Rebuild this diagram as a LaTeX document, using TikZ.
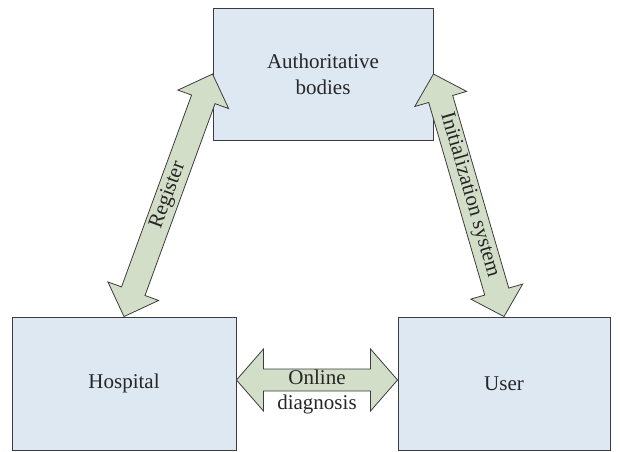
\documentclass[tikz,border=0pt]{standalone}
\usepackage{fontspec}
\setmainfont{Liberation Serif}
\usetikzlibrary{calc}
\definecolor{boxfill}{HTML}{DDE8F3}
\definecolor{boxline}{HTML}{3C3C3C}
\definecolor{arrfill}{HTML}{D3DEC8}
\newcommand\dblarrow[5]{%
 \draw[flowarrow] (#1) -- ($(#1)!#3!(#2)!#4!90:(#2)$) -- ($(#1)!#3!(#2)!#5!90:(#2)$)
  -- ($(#2)!#3!(#1)!#5!-90:(#1)$) -- ($(#2)!#3!(#1)!#4!-90:(#1)$) -- (#2)
  -- ($(#2)!#3!(#1)!#4!90:(#1)$) -- ($(#2)!#3!(#1)!#5!90:(#1)$)
  -- ($(#1)!#3!(#2)!#5!-90:(#2)$) -- ($(#1)!#3!(#2)!#4!-90:(#2)$) -- cycle;}
\tikzset{
 entity/.style={draw=boxline, fill=boxfill, line width=0.9pt, rectangle, align=center,
   inner sep=0pt, font=\fontsize{21}{26}\selectfont, text=black!85},
 flowarrow/.style={draw=boxline, fill=arrfill, line width=0.8pt, line join=miter},
 lbl/.style={font=\fontsize{21}{25.5}\selectfont, text=black!85, inner sep=0pt}
}
\begin{document}
\begin{tikzpicture}[x=1pt,y=1pt]
\useasboundingbox (0,0) rectangle (622,451);
\node[entity, minimum width=220pt, minimum height=132pt] (auth) at (323,377) {Authoritative\\bodies};
\node[entity, minimum width=224pt, minimum height=133pt] (hosp) at (124,67.5) {Hospital};
\node[entity, minimum width=212pt, minimum height=133pt] (user) at (504,67.5) {User};
\coordinate (hl) at ($(hosp.east)+(0,3.5)$);
\coordinate (ul) at ($(user.west)+(0,3.5)$);
\dblarrow{hosp.north}{auth.west}{27pt}{27pt}{12.5pt}
\dblarrow{auth.east}{user.north}{26pt}{27pt}{12.5pt}
\dblarrow{hl}{ul}{27pt}{31pt}{11pt}
\path (hosp.north) -- (auth.west) node[lbl, midway, sloped] {Register};
\path (auth.east) -- (user.north) node[lbl, midway, sloped, yshift=1pt] {Initialization system};
\node[lbl, align=center] (od) at ($(hl)!0.5!(ul)+(0,-12)$) {Online\\diagnosis};
\end{tikzpicture}
\end{document}
